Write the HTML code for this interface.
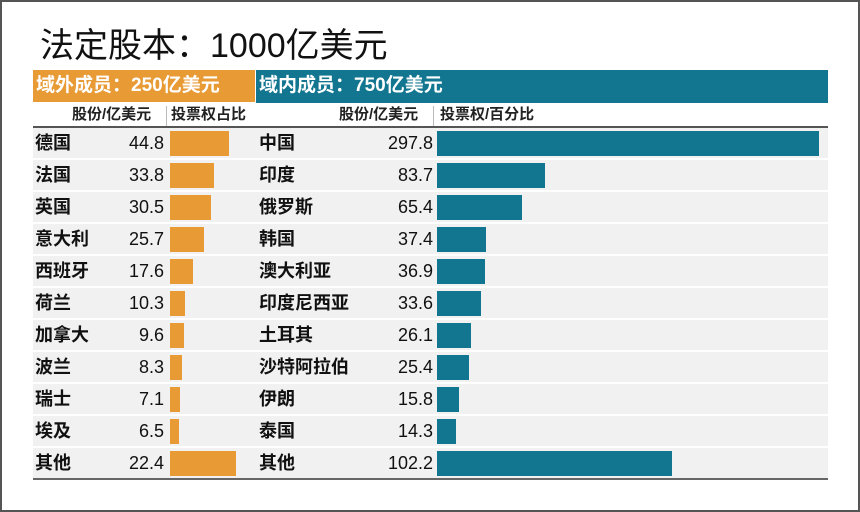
<!DOCTYPE html>
<html><head><meta charset="utf-8"><style>
body{margin:0;width:860px;height:512px;overflow:hidden;background:#fff;font-family:"Liberation Sans","Noto Sans CJK SC",sans-serif;}
.frame{position:absolute;left:0;top:0;width:856px;height:508px;border:2px solid #555;}
.abs{position:absolute;}
.t{font-size:34px;color:#111;left:40px;top:26px;line-height:40px;}
.h{color:#fff;font-size:19px;font-weight:bold;line-height:32px;padding-left:3px;box-sizing:border-box;white-space:nowrap;}
.ch{font-size:15px;font-weight:bold;color:#222;line-height:22px;white-space:nowrap;}
.row{position:absolute;left:33px;width:795px;height:30px;background:#f1f1f1;}
.nm{position:absolute;font-size:18px;font-weight:bold;color:#111;line-height:30px;white-space:nowrap;}
.v{position:absolute;font-size:18px;color:#111;line-height:30px;text-align:right;width:80px;}
.bar{position:absolute;height:25px;}
</style></head><body>
<div class="frame"></div>
<div class="abs t">法定股本：1000亿美元</div>
<div class="abs h" style="left:33px;top:70px;width:222px;height:32px;background:#e89a35;">域外成员：250亿美元</div>
<div class="abs h" style="left:256px;top:70px;width:572px;height:33px;background:#137691;">域内成员：750亿美元</div>
<div class="abs ch" style="left:72px;top:104px;">股份/亿美元</div>
<div class="abs ch" style="left:171px;top:104px;">投票权占比</div>
<div class="abs ch" style="left:339px;top:104px;">股份/亿美元</div>
<div class="abs ch" style="left:440px;top:104px;">投票权/百分比</div>
<div class="abs" style="left:166px;top:106px;width:1px;height:20px;background:#bbb"></div>
<div class="abs" style="left:433px;top:106px;width:1px;height:20px;background:#bbb"></div>
<div class="abs" style="left:33px;top:126px;width:795px;height:2px;background:#555"></div>
<div class="abs" style="left:33px;top:478px;width:795px;height:2px;background:#666"></div>
<div id="rows"></div>
<script>
var L=[["德国","44.8",229],["法国","33.8",214],["英国","30.5",211],["意大利","25.7",204],["西班牙","17.6",193],["荷兰","10.3",185],["加拿大","9.6",184],["波兰","8.3",182],["瑞士","7.1",180],["埃及","6.5",179],["其他","22.4",236]];
var R=[["中国","297.8",819],["印度","83.7",545],["俄罗斯","65.4",522],["韩国","37.4",486],["澳大利亚","36.9",485],["印度尼西亚","33.6",481],["土耳其","26.1",471],["沙特阿拉伯","25.4",469],["伊朗","15.8",459],["泰国","14.3",456],["其他","102.2",672]];
var h="";
for(var i=0;i<11;i++){var y=128+i*32;
h+='<div class="row" style="top:'+y+'px"></div>';
h+='<div class="nm" style="left:35px;top:'+y+'px">'+L[i][0]+'</div>';
h+='<div class="v" style="left:84px;top:'+y+'px">'+L[i][1]+'</div>';
h+='<div class="bar" style="left:170px;top:'+(y+3)+'px;width:'+(L[i][2]-170)+'px;background:#e89a35"></div>';
h+='<div class="nm" style="left:259px;top:'+y+'px">'+R[i][0]+'</div>';
h+='<div class="v" style="left:353px;top:'+y+'px">'+R[i][1]+'</div>';
h+='<div class="bar" style="left:437px;top:'+(y+3)+'px;width:'+(R[i][2]-437)+'px;background:#137691"></div>';}
document.getElementById("rows").innerHTML=h;
</script>
</body></html>
